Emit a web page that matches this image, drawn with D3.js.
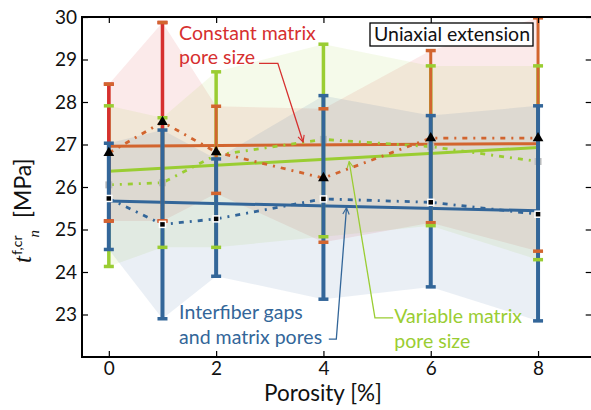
<!DOCTYPE html>
<html>
<head>
<meta charset="utf-8">
<title>Porosity chart</title>
<script src="https://cdn.jsdelivr.net/npm/d3@7/dist/d3.min.js"></script>
<style>
body { margin: 0; background: #fff; }
svg text { font-family: Lato, "Open Sans", sans-serif; }
.tick text { font-size: 19px; fill: #111; }
.tick line { stroke: #000; stroke-width: 1.2px; }
</style>
</head>
<body>
<div id="chart"></div>
<script>

// porosity values [%]
var porosity = [0, 1, 2, 4, 6, 8];

// constant matrix pore size (orange), red bars only shown at first two points
var constMean  = [26.80, 27.53, 26.82, 26.21, 27.15, 27.15];
var constLower = [25.20, 25.20, 25.85, 24.70, 25.16, 24.49];
var constUpper = [28.42, 29.87, 27.90, 27.84, 29.21, 29.98];
var redX     = [0, 1];
var redLower = [25.20, 25.20];
var redUpper = [28.42, 29.87];

// variable matrix pore size (green)
var varMean  = [26.05, 26.10, 26.75, 27.12, 26.95, 26.60];
var varLower = [24.13, 24.58, 24.58, 24.83, 25.09, 24.29];
var varUpper = [27.91, 27.63, 28.71, 29.36, 28.85, 28.85];

// interfiber gaps and matrix pores (blue)
var gapMean  = [25.73, 25.12, 25.25, 25.72, 25.64, 25.36];
var gapLower = [24.53, 22.90, 23.90, 23.36, 23.65, 22.85];
var gapUpper = [27.03, 27.34, 26.66, 28.15, 27.68, 27.91];

// linear fits, evaluated at the ends
var fitX     = [0, 8];
var fitConst = [26.96, 27.02];
var fitVar   = [26.37, 26.93];
var fitGap   = [25.67, 25.44];

var xTicks = [0, 2, 4, 6, 8];
var yTicks = [23, 24, 25, 26, 27, 28, 29, 30];

var RED = "#d6302f", ORANGE = "#d2652f", GREEN = "#9acd32", BLUE = "#336699";

var W = 591, H = 410;
var x = d3.scaleLinear().domain([-0.5, 9]).range([82, 591.7]);
var y = d3.scaleLinear().domain([22, 30]).range([357, 17]);

var svg = d3.select("#chart").append("svg")
    .attr("width", W).attr("height", H);

svg.append("defs").append("clipPath").attr("id", "clip")
  .append("rect").attr("x", 82).attr("y", 17).attr("width", 510).attr("height", 340);

var plot = svg.append("g").attr("clip-path", "url(#clip)");

function rows(xs, lo, hi, m) {
  return xs.map(function(v, i) { return { x: v, lo: lo[i], hi: hi[i], m: m ? m[i] : null }; });
}
var constRows = rows(porosity, constLower, constUpper, constMean);
var redRows = rows(redX, redLower, redUpper);
var varRows = rows(porosity, varLower, varUpper, varMean);
var gapRows = rows(porosity, gapLower, gapUpper, gapMean);

// shaded ranges
var area = d3.area()
    .x(function(d) { return x(d.x); })
    .y0(function(d) { return y(d.lo); })
    .y1(function(d) { return y(d.hi); });
[[constRows, RED], [varRows, GREEN], [gapRows, BLUE]].forEach(function(s) {
  plot.append("path").datum(s[0]).attr("d", area)
      .attr("fill", s[1]).attr("fill-opacity", 0.1);
});

// fitted lines
var fitLine = d3.line().x(function(d) { return x(d[0]); }).y(function(d) { return y(d[1]); });
[[fitConst, ORANGE], [fitVar, GREEN], [fitGap, BLUE]].forEach(function(s) {
  plot.append("path").datum(d3.zip(fitX, s[0])).attr("d", fitLine)
      .attr("fill", "none").attr("stroke", s[1]).attr("stroke-width", 3);
});

var meanLine = d3.line().x(function(d) { return x(d.x); }).y(function(d) { return y(d.m); });

// green dash-dot with grey squares
plot.append("path").datum(varRows).attr("d", meanLine)
    .attr("fill", "none").attr("stroke", GREEN).attr("stroke-width", 2.8)
    .attr("stroke-dasharray", "5,6,2,6");
plot.selectAll(".gsq").data(varRows).enter().append("rect")
    .attr("x", function(d) { return x(d.x) - 3.5; })
    .attr("y", function(d) { return y(d.m) - 3.5; })
    .attr("width", 7).attr("height", 7)
    .attr("fill", "#bdbdbd");

// error bar stems
function stems(data, color, w) {
  plot.append("g").selectAll("line").data(data).enter().append("line")
      .attr("x1", function(d) { return x(d.x); }).attr("x2", function(d) { return x(d.x); })
      .attr("y1", function(d) { return y(d.lo); }).attr("y2", function(d) { return y(d.hi); })
      .attr("stroke", color).attr("stroke-width", w);
}
function caps(data, color) {
  var g = plot.append("g");
  ["lo", "hi"].forEach(function(k) {
    g.selectAll("line." + k).data(data).enter().append("line").attr("class", k)
        .attr("x1", function(d) { return x(d.x) - 5; }).attr("x2", function(d) { return x(d.x) + 5; })
        .attr("y1", function(d) { return y(d[k]); }).attr("y2", function(d) { return y(d[k]); })
        .attr("stroke", color).attr("stroke-width", 3.5);
  });
}
stems(varRows, GREEN, 3.5);
stems(constRows, ORANGE, 3);
stems(redRows, RED, 3.5);
stems(gapRows, BLUE, 4);
caps(redRows, RED);
caps(constRows, ORANGE);
caps(varRows, GREEN);
caps(gapRows, BLUE);

// orange dash-dot with black triangles
plot.append("path").datum(constRows).attr("d", meanLine)
    .attr("fill", "none").attr("stroke", ORANGE).attr("stroke-width", 2.8)
    .attr("stroke-dasharray", "5,6,2,6");
plot.selectAll(".tri").data(constRows).enter().append("path")
    .attr("d", d3.symbol().type(d3.symbolTriangle).size(50))
    .attr("transform", function(d) { return "translate(" + x(d.x) + "," + y(d.m) + ")"; })
    .attr("fill", "#000");

// blue dash-dot with black squares
plot.append("path").datum(gapRows).attr("d", meanLine)
    .attr("fill", "none").attr("stroke", BLUE).attr("stroke-width", 2.8)
    .attr("stroke-dasharray", "5,6,2,6");
plot.selectAll(".bsq").data(gapRows).enter().append("rect")
    .attr("x", function(d) { return x(d.x) - 3; })
    .attr("y", function(d) { return y(d.m) - 3; })
    .attr("width", 6).attr("height", 6)
    .attr("fill", "#000").attr("stroke", "#fff").attr("stroke-width", 1.5);

// axes, ticks pointing inward
svg.append("g").attr("transform", "translate(82,0)")
    .call(d3.axisLeft(y).tickValues(yTicks).tickSizeInner(-6).tickSizeOuter(0).tickPadding(5))
    .call(function(g) { g.select(".domain").remove(); });
svg.append("g").attr("transform", "translate(591.7,0)")
    .call(d3.axisRight(y).tickValues(yTicks).tickSizeInner(-6).tickSizeOuter(0).tickFormat(""))
    .call(function(g) { g.select(".domain").remove(); });
svg.append("g").attr("transform", "translate(0,357)")
    .call(d3.axisBottom(x).tickValues(xTicks).tickSizeInner(-6).tickSizeOuter(0).tickPadding(4))
    .call(function(g) { g.select(".domain").remove(); });
svg.append("g").attr("transform", "translate(0,17)")
    .call(d3.axisTop(x).tickValues(xTicks).tickSizeInner(-6).tickSizeOuter(0).tickFormat(""))
    .call(function(g) { g.select(".domain").remove(); });

svg.append("path")
    .attr("d", "M591.7,17H82V357H591.7")
    .attr("fill", "none").attr("stroke", "#000").attr("stroke-width", 2);

// axis titles
svg.append("text").attr("x", 323).attr("y", 401).attr("text-anchor", "middle")
    .attr("font-size", 22.5).attr("fill", "#111").text("Porosity [%]");

var yl = svg.append("text").attr("transform", "rotate(-90)")
    .attr("x", -263).attr("y", 31).attr("fill", "#111").attr("font-size", 23);
yl.append("tspan").attr("font-family", "Liberation Serif").attr("font-style", "italic")
    .attr("font-size", 25).text("t");
yl.append("tspan").attr("dy", -9).attr("dx", 1).attr("font-size", 14).text("f,cr");
yl.append("tspan").attr("dy", 17).attr("dx", -2).attr("font-family", "Liberation Serif")
    .attr("font-style", "italic").attr("font-size", 15).text("n");
yl.append("tspan").attr("dy", -8).attr("dx", 12).text("[MPa]");

// annotations
var defs = svg.select("defs");
[["aRed", RED], ["aGreen", GREEN], ["aBlue", BLUE]].forEach(function(a) {
  defs.append("marker").attr("id", a[0]).attr("viewBox", "0 0 10 10")
      .attr("refX", 9).attr("refY", 5).attr("markerWidth", 8).attr("markerHeight", 8)
      .attr("orient", "auto").attr("markerUnits", "userSpaceOnUse")
    .append("path").attr("d", "M1,1L9,5L1,9").attr("fill", "none")
      .attr("stroke", a[1]).attr("stroke-width", 1.4);
});

var annots = [
  { lines: ["Constant matrix", "pore size"], color: RED, tx: 1.31, ty: [29.46, 28.89],
    path: [[2.80, 28.91], [3.15, 28.91], [3.62, 27.06]], marker: "aRed" },
  { lines: ["Interfiber gaps", "and matrix pores"], color: BLUE, tx: 1.31, ty: [22.89, 22.30],
    path: [[4.10, 22.42], [4.24, 22.42], [4.43, 25.51]], marker: "aBlue" },
  { lines: ["Variable matrix", "pore size"], color: GREEN, tx: 5.32, ty: [22.80, 22.21],
    path: [[5.30, 22.92], [4.96, 22.92], [4.48, 26.60]], marker: "aGreen" }
];
annots.forEach(function(a) {
  a.lines.forEach(function(t, i) {
    svg.append("text").attr("x", x(a.tx)).attr("y", y(a.ty[i]))
        .attr("font-size", 19.5).attr("fill", a.color).text(t);
  });
  svg.append("path").datum(a.path).attr("d", fitLine)
      .attr("fill", "none").attr("stroke", a.color).attr("stroke-width", 1.3)
      .attr("marker-end", "url(#" + a.marker + ")");
});

// boxed title
svg.append("rect").attr("x", 370).attr("y", 23).attr("width", 163).attr("height", 23)
    .attr("fill", "#fff").attr("stroke", "#000").attr("stroke-width", 1.3);
svg.append("text").attr("x", 374).attr("y", 40.5).attr("font-size", 19.5)
    .attr("fill", "#111").text("Uniaxial extension");

</script>
</body>
</html>
